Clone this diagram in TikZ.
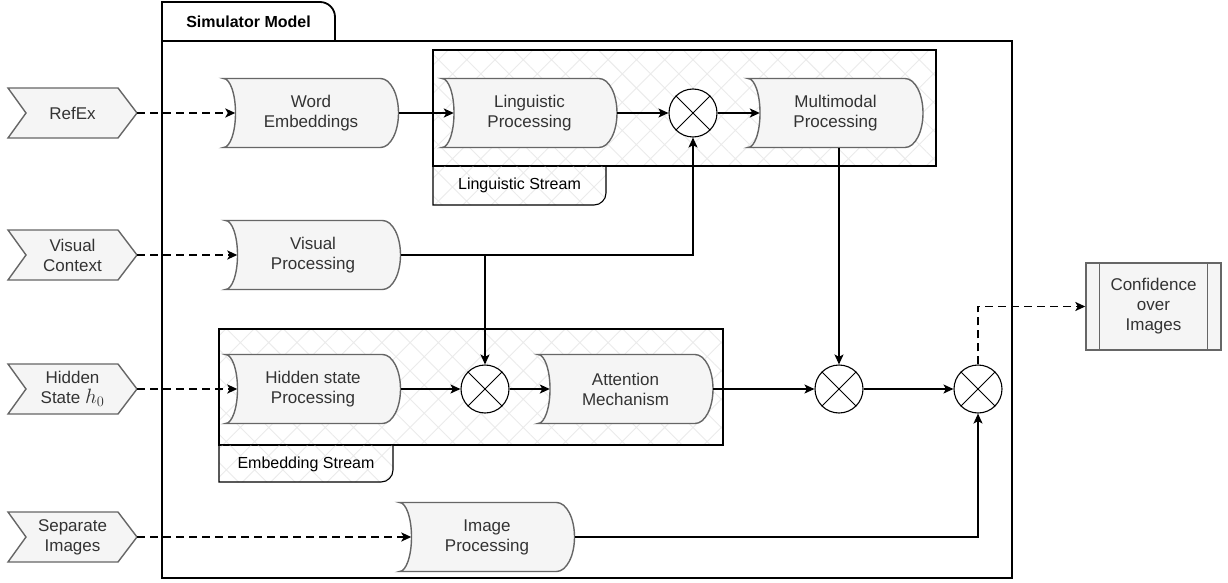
\documentclass[tikz,border=0pt]{standalone}
\usepackage{fontspec}
\setmainfont{Liberation Sans}
\usetikzlibrary{arrows.meta,patterns.meta,calc}

\definecolor{nodefill}{HTML}{F5F5F5}
\definecolor{nodeline}{HTML}{666666}
\definecolor{nodetext}{HTML}{333333}
\definecolor{hatchgray}{HTML}{EBEBEB}

\tikzset{
  x=1pt, y=1pt,
  nodefont/.style={font=\fontsize{17}{20}\selectfont},
  proc/.style={rectangle, inner sep=0pt, minimum width=175pt, minimum height=69pt,
    align=center, text=nodetext, nodefont},
  procline/.style={draw=nodeline, fill=nodefill, line width=1.4pt},
  chevron/.style={rectangle, inner sep=0pt, minimum width=129pt, minimum height=50pt,
    align=center, text=nodetext, nodefont},
  multnode/.style={circle, draw=black, line width=1.1pt, fill=white,
    minimum size=48pt, inner sep=0pt},
  flow/.style={line width=1.8pt, -{Stealth[length=10pt,width=9pt,inset=2.5pt]}},
  dflow/.style={flow, dash pattern=on 8pt off 5pt},
  streambox/.style={draw=black, line width=1.1pt,
    pattern={Hatch[angle=45,distance=20pt,line width=0.9pt]}, pattern color=hatchgray},
  streamlabel/.style={font=\fontsize{16}{19}\selectfont, text=black},
  outputbox/.style={rectangle, draw=nodeline, fill=nodefill, line width=1.4pt,
    minimum width=135pt, minimum height=87pt, inner sep=0pt, align=center,
    text=nodetext, nodefont},
}

% processing block: concave left side, convex right side
\newcommand\procblock[4]{%
  \draw[procline, shift={(#2,-#3)}] (-87.5,34.5)
    arc[start angle=90, end angle=-90, x radius=12, y radius=34.5]
    -- (69.5,-34.5)
    arc[start angle=-90, end angle=90, x radius=18, y radius=34.5]
    -- cycle;
  \node[proc] (#1) at (#2,-#3) {#4};
}

% input chevron on the left
\newcommand\inputblock[3]{%
  \draw[procline, shift={(72.5,-#2)}] (-64.5,25) -- (45.5,25) -- (64.5,0)
    -- (45.5,-25) -- (-64.5,-25) -- (-46.5,0) -- cycle;
  \node[chevron] (#1) at (72.5,-#2) {#3};
}

% product junction: circle with a cross
\newcommand\multblock[3]{%
  \node[multnode] (#1) at (#2,-#3) {};
  \draw[line width=0.9pt] (#1.north west) -- (#1.south east)
                          (#1.north east) -- (#1.south west);
}

\newcommand\hzero{{\fontsize{20}{20}\selectfont$h_0$}}

\begin{document}
\begin{tikzpicture}
\useasboundingbox (0,0) rectangle (1228,-583);
\fill[white] (0,0) rectangle (1228,-583);

% outer model frame with its tab
\draw[line width=1.8pt] (162,-41) -- (162,-2) -- (320,-2)
  arc[start angle=90, end angle=0, radius=15] -- (335,-41);
\draw[line width=1.8pt] (162,-41) rectangle (1012,-578);
\node[font=\fontsize{16}{19}\selectfont\bfseries] (simlabel) at (248.5,-21.5) {Simulator Model};

% linguistic stream container
\draw[streambox] (433,-50) rectangle (936,-166);
\draw[streambox] (433,-166) -- (433,-205) -- (594,-205)
  arc[start angle=-90, end angle=0, radius=12] -- (606,-166) -- cycle;
\node[streamlabel] (lslabel) at (519.5,-185.5) {Linguistic Stream};

% embedding stream container
\draw[streambox] (219,-329) rectangle (723,-445);
\draw[streambox] (219,-445) -- (219,-482) -- (381,-482)
  arc[start angle=-90, end angle=0, radius=12] -- (393,-445) -- cycle;
\node[streamlabel] (eslabel) at (306,-464) {Embedding Stream};

% inputs
\inputblock{refex}{113}{RefEx}
\inputblock{vctx}{255}{Visual\\Context}
\inputblock{hstate}{389}{Hidden\\State \hzero}
\inputblock{sepimg}{537}{Separate\\Images}

% processing blocks
\procblock{wemb}{311}{113}{Word\\Embeddings}
\procblock{lproc}{529.5}{113}{Linguistic\\Processing}
\procblock{mproc}{835.5}{113}{Multimodal\\Processing}
\procblock{vproc}{313}{255}{Visual\\Processing}
\procblock{hproc}{313}{389}{Hidden state\\Processing}
\procblock{attn}{625.5}{389}{Attention\\Mechanism}
\procblock{iproc}{487}{537}{Image\\Processing}

% product junctions
\multblock{m1}{693}{113}
\multblock{m2}{485}{389}
\multblock{m3}{839}{389}
\multblock{m4}{978}{389}

% output
\node[outputbox] (conf) at (1153.5,-306.5) {Confidence\\over\\Images};
\draw[draw=nodeline, line width=1.4pt]
  ([xshift=14pt]conf.north west) -- ([xshift=14pt]conf.south west)
  ([xshift=-14pt]conf.north east) -- ([xshift=-14pt]conf.south east);

% input connectors
\draw[dflow] (refex.east) -- ([xshift=12pt]wemb.west);
\draw[dflow] (vctx.east) -- ([xshift=12pt]vproc.west);
\draw[dflow] (hstate.east) -- ([xshift=12pt]hproc.west);
\draw[dflow] (sepimg.east) -- ([xshift=12pt]iproc.west);

% linguistic path
\draw[flow] (wemb.east) -- ([xshift=12pt]lproc.west);
\draw[flow] (lproc.east) -- (m1.west);
\draw[flow] (m1.east) -- ([xshift=12pt]mproc.west);

% visual features into both junctions
\coordinate (vsplit) at (m2 |- vproc.east);
\draw[flow] (vproc.east) -| (m1.south);
\draw[flow] (vsplit) -- (m2.north);

% embedding path
\draw[flow] (hproc.east) -- (m2.west);
\draw[flow] (m2.east) -- ([xshift=12pt]attn.west);
\draw[flow] (attn.east) -- (m3.west);
\draw[flow] (mproc.south -| m3) -- (m3.north);
\draw[flow] (m3.east) -- (m4.west);
\draw[flow] (iproc.east) -| (m4.south);

% result
\draw[dflow] (m4.north) |- (conf.west);
\end{tikzpicture}
\end{document}
